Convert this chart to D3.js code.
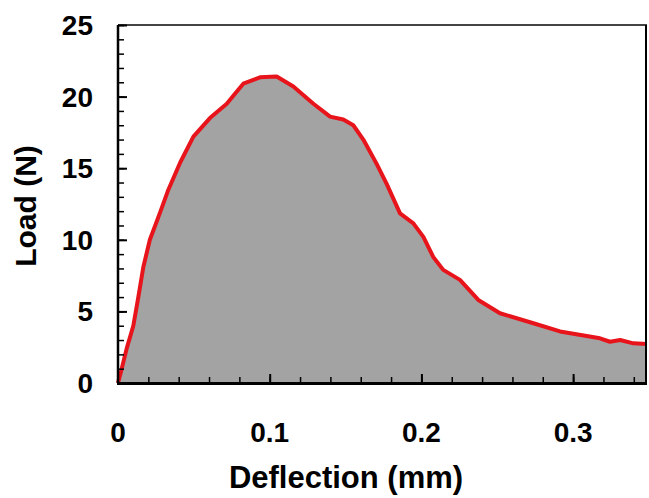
<!DOCTYPE html>
<html>
<head>
<meta charset="utf-8">
<script src="https://cdn.jsdelivr.net/npm/d3@7"></script>
<style>
  body { margin: 0; background: #fff; }
  svg text { font-family: "Liberation Sans", Arial, sans-serif; font-weight: bold; fill: #000; }
</style>
</head>
<body>
<div id="chart"></div>
<script>
// Data
const deflection = [0, 0.002, 0.0057, 0.0101, 0.0134, 0.0167, 0.021, 0.0277, 0.0332, 0.041, 0.0497,
  0.0606, 0.0717, 0.0771, 0.0826, 0.0936, 0.1046, 0.1156, 0.1288, 0.1398, 0.1485, 0.1551, 0.1617,
  0.1705, 0.1771, 0.1859, 0.1947, 0.2013, 0.2078, 0.2144, 0.2254, 0.2375, 0.2518, 0.2738, 0.2914,
  0.3177, 0.3243, 0.331, 0.3397, 0.3487];
const load = [0, 0.8, 2.4, 4.0, 6.0, 8.1, 10.0, 11.9, 13.5, 15.4, 17.2,
  18.5, 19.5, 20.2, 20.9, 21.35, 21.4, 20.7, 19.5, 18.6, 18.4, 18.0, 17.0,
  15.3, 13.9, 11.85, 11.15, 10.2, 8.8, 7.9, 7.2, 5.8, 4.87, 4.17, 3.6,
  3.12, 2.88, 3.0, 2.77, 2.72];

const xTicks = [0, 0.1, 0.2, 0.3];
const yTicks = [0, 5, 10, 15, 20, 25];

const width = 649, height = 498;
const margin = { left: 118, right: 2, top: 25, bottom: 115 };

const data = deflection.map((d, i) => ({ x: d, y: load[i] }));

const svg = d3.select("#chart").append("svg")
    .attr("width", width)
    .attr("height", height);

const x = d3.scaleLinear().domain([0, 0.3487]).range([margin.left, width - margin.right]);
const y = d3.scaleLinear().domain([0, 25]).range([height - margin.bottom, margin.top]);

// gray area under the curve
svg.append("path")
    .datum(data)
    .attr("fill", "#a3a3a3")
    .attr("d", d3.area().x(d => x(d.x)).y0(y(0)).y1(d => y(d.y)));

// red curve
svg.append("path")
    .datum(data)
    .attr("fill", "none")
    .attr("stroke", "#e8141b")
    .attr("stroke-width", 4)
    .attr("stroke-linejoin", "round")
    .attr("d", d3.line().x(d => x(d.x)).y(d => y(d.y)));

// frame: top and right
svg.append("line")
    .attr("x1", x(0)).attr("x2", x.range()[1])
    .attr("y1", y(25)).attr("y2", y(25))
    .attr("stroke", "#444").attr("stroke-width", 2);
svg.append("line")
    .attr("x1", x.range()[1] - 1).attr("x2", x.range()[1] - 1)
    .attr("y1", y(25)).attr("y2", y(0))
    .attr("stroke", "#000").attr("stroke-width", 2);

// inward minor ticks, then major ticks
const yAxis = svg.append("g").attr("transform", `translate(${x(0)},0)`);
yAxis.call(d3.axisRight(y).tickValues(d3.range(0, 25.01, 1)).tickSize(6).tickFormat(""));
yAxis.select(".domain").remove();
yAxis.selectAll("line").attr("stroke-width", 1.5);

const xAxis = svg.append("g").attr("transform", `translate(0,${y(0)})`);
xAxis.call(d3.axisTop(x).tickValues(d3.range(0.02, 0.35, 0.02)).tickSize(6).tickFormat(""));
xAxis.select(".domain").remove();
xAxis.selectAll("line").attr("stroke-width", 1.5);

const xMajor = svg.append("g").attr("transform", `translate(0,${y(0)})`);
xMajor.call(d3.axisTop(x).tickValues(xTicks.slice(1)).tickSize(9).tickFormat(""));
xMajor.select(".domain").remove();
xMajor.selectAll("line").attr("stroke-width", 2);

const yMajor = svg.append("g").attr("transform", `translate(${x(0)},0)`);
yMajor.call(d3.axisRight(y).tickValues(yTicks).tickSize(9).tickFormat(""));
yMajor.select(".domain").remove();
yMajor.selectAll("line").attr("stroke-width", 2);

// axis lines
svg.append("line")
    .attr("x1", x(0)).attr("x2", x(0))
    .attr("y1", y(25)).attr("y2", y(0))
    .attr("stroke", "#000").attr("stroke-width", 2.5);
svg.append("line")
    .attr("x1", x(0) - 1).attr("x2", x.range()[1])
    .attr("y1", y(0) + 0.5).attr("y2", y(0) + 0.5)
    .attr("stroke", "#000").attr("stroke-width", 3);

// tick labels
svg.selectAll(".ylab").data(yTicks).enter().append("text")
    .attr("x", 93)
    .attr("y", d => y(d) + 10)
    .attr("text-anchor", "end")
    .style("font-size", "28px")
    .text(d => d);

svg.selectAll(".xlab").data(xTicks).enter().append("text")
    .attr("x", d => x(d))
    .attr("y", 442)
    .attr("text-anchor", "middle")
    .style("font-size", "28px")
    .text(d => d === 0 ? "0" : d3.format(".1f")(d));

// axis titles
svg.append("text")
    .attr("x", 346)
    .attr("y", 488)
    .attr("text-anchor", "middle")
    .style("font-size", "31px")
    .text("Deflection (mm)");

svg.append("text")
    .attr("transform", "translate(36,206) rotate(-90)")
    .attr("text-anchor", "middle")
    .style("font-size", "30px")
    .text("Load (N)");
</script>
</body>
</html>
